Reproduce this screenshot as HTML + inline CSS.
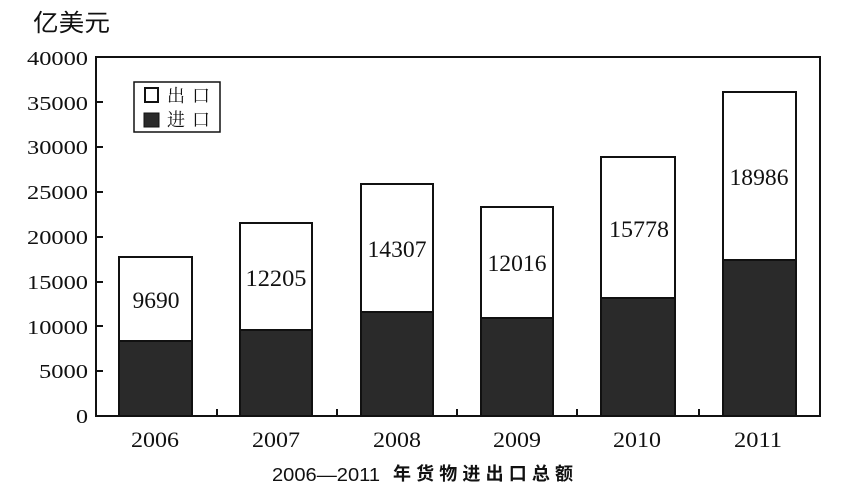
<!DOCTYPE html>
<html><head><meta charset="utf-8"><style>
html,body{margin:0;padding:0;background:#fff;}
svg{display:block;}
.n{font-family:"Liberation Serif",serif;fill:#111;}
</style></head><body>
<svg width="850" height="493" viewBox="0 0 850 493" xmlns="http://www.w3.org/2000/svg">
<rect width="850" height="493" fill="#fff"/>
<text x="33" y="31" font-family="Liberation Sans, 'Noto Sans CJK SC', sans-serif" font-size="24" fill="#111" textLength="77" lengthAdjust="spacingAndGlyphs">亿美元</text>

<!-- frame -->
<g stroke="#111" stroke-width="2" fill="none">
<line x1="96" y1="57" x2="821" y2="57"/>
<line x1="820" y1="57" x2="820" y2="417"/>
<line x1="96" y1="56" x2="96" y2="417"/>
<line x1="95" y1="416" x2="821" y2="416"/>
</g>
<!-- y ticks -->
<g stroke="#111" stroke-width="2">
<line x1="96" y1="102" x2="103" y2="102"/>
<line x1="96" y1="147" x2="103" y2="147"/>
<line x1="96" y1="192" x2="103" y2="192"/>
<line x1="96" y1="237" x2="103" y2="237"/>
<line x1="96" y1="282" x2="103" y2="282"/>
<line x1="96" y1="326" x2="103" y2="326"/>
<line x1="96" y1="371" x2="103" y2="371"/>
<line x1="217" y1="416" x2="217" y2="409"/>
<line x1="337" y1="416" x2="337" y2="409"/>
<line x1="457" y1="416" x2="457" y2="409"/>
<line x1="577" y1="416" x2="577" y2="409"/>
<line x1="699" y1="416" x2="699" y2="409"/>
</g>
<!-- y labels -->
<g class="n" font-size="20" text-anchor="end">
<text x="88" y="65" textLength="61" lengthAdjust="spacingAndGlyphs">40000</text>
<text x="88" y="110" textLength="61" lengthAdjust="spacingAndGlyphs">35000</text>
<text x="88" y="154" textLength="61" lengthAdjust="spacingAndGlyphs">30000</text>
<text x="88" y="199" textLength="61" lengthAdjust="spacingAndGlyphs">25000</text>
<text x="88" y="244" textLength="61" lengthAdjust="spacingAndGlyphs">20000</text>
<text x="88" y="289" textLength="61" lengthAdjust="spacingAndGlyphs">15000</text>
<text x="88" y="334" textLength="61" lengthAdjust="spacingAndGlyphs">10000</text>
<text x="88" y="378" textLength="49" lengthAdjust="spacingAndGlyphs">5000</text>
<text x="88" y="423" textLength="12" lengthAdjust="spacingAndGlyphs">0</text>
</g>

<!-- bars -->
<g stroke="#111" stroke-width="2">
<rect x="119" y="257" width="73" height="84" fill="#fff"/>
<rect x="119" y="341" width="73" height="75" fill="#2a2a2a"/>
<rect x="240" y="223" width="72" height="107" fill="#fff"/>
<rect x="240" y="330" width="72" height="86" fill="#2a2a2a"/>
<rect x="361" y="184" width="72" height="128" fill="#fff"/>
<rect x="361" y="312" width="72" height="104" fill="#2a2a2a"/>
<rect x="481" y="207" width="72" height="111" fill="#fff"/>
<rect x="481" y="318" width="72" height="98" fill="#2a2a2a"/>
<rect x="601" y="157" width="74" height="141" fill="#fff"/>
<rect x="601" y="298" width="74" height="118" fill="#2a2a2a"/>
<rect x="723" y="92" width="73" height="168" fill="#fff"/>
<rect x="723" y="260" width="73" height="156" fill="#2a2a2a"/>
</g>

<!-- value labels -->
<g class="n" font-size="23" text-anchor="middle">
<text x="156" y="308" textLength="47" lengthAdjust="spacingAndGlyphs">9690</text>
<text x="276" y="286" textLength="61" lengthAdjust="spacingAndGlyphs">12205</text>
<text x="397" y="257" textLength="59" lengthAdjust="spacingAndGlyphs">14307</text>
<text x="517" y="271" textLength="59" lengthAdjust="spacingAndGlyphs">12016</text>
<text x="639" y="237" textLength="60" lengthAdjust="spacingAndGlyphs">15778</text>
<text x="759" y="185" textLength="59" lengthAdjust="spacingAndGlyphs">18986</text>
</g>

<!-- x labels -->
<g class="n" font-size="22" text-anchor="middle">
<text x="155" y="447" textLength="48" lengthAdjust="spacingAndGlyphs">2006</text>
<text x="276" y="447" textLength="48" lengthAdjust="spacingAndGlyphs">2007</text>
<text x="397" y="447" textLength="48" lengthAdjust="spacingAndGlyphs">2008</text>
<text x="517" y="447" textLength="48" lengthAdjust="spacingAndGlyphs">2009</text>
<text x="637" y="447" textLength="48" lengthAdjust="spacingAndGlyphs">2010</text>
<text x="758" y="447" textLength="48" lengthAdjust="spacingAndGlyphs">2011</text>
</g>

<!-- legend -->
<rect x="134" y="82" width="86" height="50" fill="#fff" stroke="#111" stroke-width="1.5"/>
<rect x="145" y="88" width="13" height="14" fill="#fff" stroke="#111" stroke-width="2"/>
<rect x="144" y="113" width="15" height="14" fill="#2a2a2a" stroke="#111" stroke-width="1"/>
<text x="167" y="102" font-family="'Liberation Serif','Noto Serif CJK SC',serif" font-size="18" fill="#111" textLength="43" lengthAdjust="spacing">出口</text>
<text x="167" y="126" font-family="'Liberation Serif','Noto Serif CJK SC',serif" font-size="18" fill="#111" textLength="43" lengthAdjust="spacing">进口</text>

<!-- title -->
<text x="272" y="481" font-family="'Liberation Sans',sans-serif" font-size="18" fill="#111" textLength="108" lengthAdjust="spacingAndGlyphs">2006—2011</text>
<text x="393" y="480" font-family="'Liberation Sans','Noto Sans CJK SC',sans-serif" font-size="18" font-weight="bold" fill="#111" textLength="180" lengthAdjust="spacing">年货物进出口总额</text>
</svg>
</body></html>
